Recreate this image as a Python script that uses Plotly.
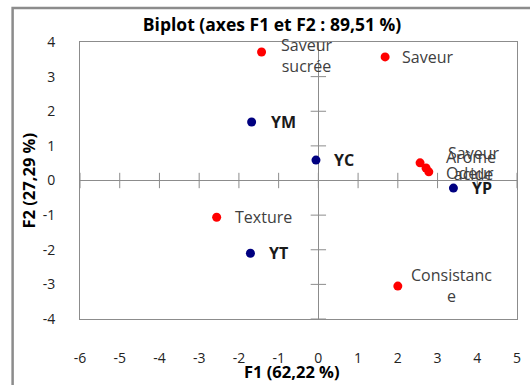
import plotly.graph_objects as go

# Variables (red) and yogurts (navy) projected on the first two factorial axes
var_labels = ["Saveur\nsucrée", "Saveur", "Arôme", "Saveur\nacide", "Odeur", "Texture", "Consistanc\ne"]
var_f1 = [-1.43, 1.68, 2.56, 2.71, 2.78, -2.56, 2.00]
var_f2 = [3.71, 3.57, 0.51, 0.36, 0.25, -1.06, -3.05]

obs_labels = ["YM", "YC", "YP", "YT"]
obs_f1 = [-1.68, -0.06, 3.40, -1.71]
obs_f2 = [1.69, 0.59, -0.22, -2.10]

x_ticks = list(range(-6, 6))
y_ticks = list(range(-4, 5))

title_text = "Biplot (axes F1 et F2 : 89,51 %)"
x_title = "F1 (62,22 %)"
y_title = "F2 (27,29 %)"

FONT = "Open Sans"
AXIS_GREY = "#8c8c8c"

# label offsets in pixels (dx, dy) so crowded labels sit beside their points
var_offsets = [(17, -3), (15, 0), (24, 6), (20, 5), (15, -1), (16, 0), (11, 1)]
obs_offsets = [(17, 0), (16, 0), (17, 0), (17, 0)]

fig = go.Figure()

# cross ticks drawn on the zero lines
fig.add_trace(go.Scatter(
    x=x_ticks, y=[0] * len(x_ticks), mode="markers", hoverinfo="skip",
    marker=dict(symbol="line-ns", size=11, line=dict(color=AXIS_GREY, width=1)),
))
fig.add_trace(go.Scatter(
    x=[0] * len(y_ticks), y=y_ticks, mode="markers", hoverinfo="skip",
    marker=dict(symbol="line-ew", size=11, line=dict(color=AXIS_GREY, width=1)),
))

fig.add_trace(go.Scatter(
    x=var_f1, y=var_f2, mode="markers",
    marker=dict(color="#ff0000", size=9),
    text=[t.replace("\n", " ") for t in var_labels], hoverinfo="text",
))
fig.add_trace(go.Scatter(
    x=obs_f1, y=obs_f2, mode="markers",
    marker=dict(color="#000080", size=9),
    text=obs_labels, hoverinfo="text",
))

annotations = []
for (lbl, x, y, (dx, dy)) in zip(var_labels, var_f1, var_f2, var_offsets):
    annotations.append(dict(
        x=x, y=y, xref="x", yref="y", text=lbl.replace("\n", "<br>"),
        showarrow=False, xanchor="left", yanchor="middle", align="center",
        xshift=dx, yshift=dy,
        font=dict(family=FONT, size=16, color="#404040"),
    ))
for (lbl, x, y, (dx, dy)) in zip(obs_labels, obs_f1, obs_f2, obs_offsets):
    annotations.append(dict(
        x=x, y=y, xref="x", yref="y", text=f"<b>{lbl}</b>",
        showarrow=False, xanchor="left", yanchor="middle",
        xshift=dx, yshift=dy,
        font=dict(family=FONT, size=16, color="#1a1a1a"),
    ))

# axis titles
annotations.append(dict(
    x=(294 - 80) / 441, y=0, xref="paper", yref="paper", xanchor="center", yanchor="middle",
    yshift=-52, text=f"<b>{x_title}</b>", showarrow=False,
    font=dict(family=FONT, size=16.5, color="#000000"),
))
annotations.append(dict(
    x=0, y=0.5, xref="paper", yref="paper", xanchor="center", yanchor="middle",
    xshift=-52, text=f"<b>{y_title}</b>", showarrow=False, textangle=-90,
    font=dict(family=FONT, size=16.5, color="#000000"),
))

fig.update_layout(
    width=530, height=385,
    margin=dict(l=80, r=9, t=42, b=66),
    paper_bgcolor="white", plot_bgcolor="white",
    showlegend=False,
    font=dict(family=FONT, size=14, color="#222222"),
    title=dict(
        text=f"<b>{title_text}</b>", x=272 / 530, xref="container", xanchor="center",
        y=1 - 25 / 385, yref="container", yanchor="middle",
        font=dict(family=FONT, size=17.5, color="#000000"),
    ),
    annotations=annotations,
    shapes=[dict(
        type="rect", xref="paper", yref="paper",
        x0=(12 - 80) / 441, x1=(560 - 80) / 441,
        y0=(319 - 420) / 277, y1=(319 - 8) / 277,
        line=dict(color=AXIS_GREY, width=2.5), fillcolor="rgba(0,0,0,0)",
        layer="below",
    )],
)

fig.update_xaxes(
    range=[-6, 5], tickvals=x_ticks, ticktext=[str(v) for v in x_ticks],
    showgrid=False, zeroline=True, zerolinecolor=AXIS_GREY, zerolinewidth=1,
    showline=True, mirror=True, linecolor=AXIS_GREY, linewidth=1,
    ticks="outside", ticklen=26, tickcolor="rgba(0,0,0,0)",
    tickfont=dict(family=FONT, size=14, color="#222222"),
)
fig.update_yaxes(
    range=[-4, 4], tickvals=y_ticks, ticktext=[str(v) for v in y_ticks],
    showgrid=False, zeroline=True, zerolinecolor=AXIS_GREY, zerolinewidth=1,
    showline=True, mirror=True, linecolor=AXIS_GREY, linewidth=1,
    ticks="outside", ticklen=21, tickcolor="rgba(0,0,0,0)",
    tickfont=dict(family=FONT, size=14, color="#222222"),
)

fig.write_html("out.html")
